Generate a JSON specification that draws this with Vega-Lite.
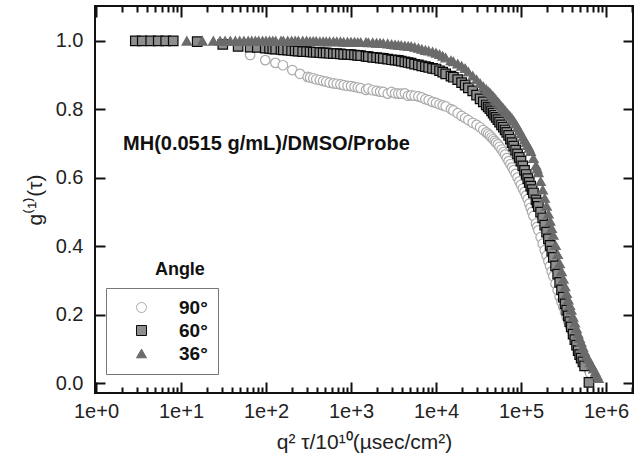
{
  "$schema": "https://vega.github.io/schema/vega-lite/v6.json",
  "width": 538,
  "height": 387,
  "autosize": {"type": "none"},
  "padding": {"left": 95, "top": 6, "right": 11, "bottom": 76},
  "background": "white",
  "config": {
    "view": {"stroke": "#111", "strokeWidth": 2},
    "font": "Liberation Sans",
    "axis": {
      "grid": false,
      "domain": false,
      "ticks": true,
      "tickColor": "#111111",
      "tickWidth": 2,
      "tickRound": true,
      "labelFont": "Liberation Sans",
      "labelFontSize": 20,
      "labelColor": "#222",
      "titleFont": "Liberation Sans",
      "titleFontSize": 21,
      "titleFontWeight": "normal",
      "titleColor": "#222"
    }
  },
  "data": {
    "values": [
      {"a":"90","x":65,"y":0.959},{"a":"90","x":98,"y":0.944},{"a":"90","x":129,"y":0.936},{"a":"90","x":158,"y":0.929},{"a":"90","x":204,"y":0.915},{"a":"90","x":251,"y":0.904},{"a":"90","x":309,"y":0.895},{"a":"90","x":330,"y":0.893},{"a":"90","x":360,"y":0.891},{"a":"90","x":390,"y":0.888},{"a":"90","x":430,"y":0.886},{"a":"90","x":470,"y":0.883},{"a":"90","x":510,"y":0.881},{"a":"90","x":560,"y":0.878},{"a":"90","x":620,"y":0.876},{"a":"90","x":680,"y":0.875},{"a":"90","x":750,"y":0.873},{"a":"90","x":820,"y":0.871},{"a":"90","x":910,"y":0.869},{"a":"90","x":1000,"y":0.868},{"a":"90","x":1100,"y":0.866},{"a":"90","x":1200,"y":0.864},{"a":"90","x":1300,"y":0.862},{"a":"90","x":1500,"y":0.857},{"a":"90","x":1600,"y":0.861},{"a":"90","x":1800,"y":0.856},{"a":"90","x":2000,"y":0.854},{"a":"90","x":2200,"y":0.852},{"a":"90","x":2400,"y":0.851},{"a":"90","x":2700,"y":0.846},{"a":"90","x":3000,"y":0.851},{"a":"90","x":3300,"y":0.847},{"a":"90","x":3600,"y":0.846},{"a":"90","x":3900,"y":0.846},{"a":"90","x":4300,"y":0.847},{"a":"90","x":4700,"y":0.840},{"a":"90","x":5100,"y":0.841},{"a":"90","x":5600,"y":0.840},{"a":"90","x":6200,"y":0.838},{"a":"90","x":6800,"y":0.835},{"a":"90","x":7500,"y":0.830},{"a":"90","x":8200,"y":0.827},{"a":"90","x":9100,"y":0.822},{"a":"90","x":10000,"y":0.819},{"a":"90","x":11000,"y":0.815},{"a":"90","x":12000,"y":0.812},{"a":"90","x":13000,"y":0.809},{"a":"90","x":15000,"y":0.801},{"a":"90","x":16000,"y":0.797},{"a":"90","x":18000,"y":0.789},{"a":"90","x":20000,"y":0.781},{"a":"90","x":22000,"y":0.775},{"a":"90","x":24000,"y":0.769},{"a":"90","x":27000,"y":0.761},{"a":"90","x":30000,"y":0.755},{"a":"90","x":33000,"y":0.748},{"a":"90","x":36000,"y":0.740},{"a":"90","x":39000,"y":0.733},{"a":"90","x":41000,"y":0.729},{"a":"90","x":43000,"y":0.724},{"a":"90","x":45000,"y":0.718},{"a":"90","x":47000,"y":0.713},{"a":"90","x":49000,"y":0.708},{"a":"90","x":51000,"y":0.703},{"a":"90","x":53500,"y":0.698},{"a":"90","x":56000,"y":0.691},{"a":"90","x":59000,"y":0.683},{"a":"90","x":62000,"y":0.675},{"a":"90","x":65000,"y":0.668},{"a":"90","x":68000,"y":0.658},{"a":"90","x":71500,"y":0.649},{"a":"90","x":75000,"y":0.640},{"a":"90","x":78500,"y":0.631},{"a":"90","x":82000,"y":0.623},{"a":"90","x":86500,"y":0.612},{"a":"90","x":91000,"y":0.601},{"a":"90","x":95500,"y":0.590},{"a":"90","x":100000,"y":0.580},{"a":"90","x":105000,"y":0.569},{"a":"90","x":110000,"y":0.559},{"a":"90","x":115000,"y":0.549},{"a":"90","x":120000,"y":0.538},{"a":"90","x":125000,"y":0.525},{"a":"90","x":130000,"y":0.513},{"a":"90","x":135000,"y":0.501},{"a":"90","x":140000,"y":0.489},{"a":"90","x":150000,"y":0.467},{"a":"90","x":155000,"y":0.457},{"a":"90","x":160000,"y":0.447},{"a":"90","x":170000,"y":0.427},{"a":"90","x":180000,"y":0.408},{"a":"90","x":190000,"y":0.389},{"a":"90","x":200000,"y":0.373},{"a":"90","x":210000,"y":0.357},{"a":"90","x":220000,"y":0.343},{"a":"90","x":230000,"y":0.327},{"a":"90","x":240000,"y":0.313},{"a":"90","x":255000,"y":0.291},{"a":"90","x":270000,"y":0.272},{"a":"90","x":285000,"y":0.254},{"a":"90","x":300000,"y":0.238},{"a":"90","x":315000,"y":0.223},{"a":"90","x":330000,"y":0.208},{"a":"90","x":345000,"y":0.194},{"a":"90","x":360000,"y":0.181},{"a":"90","x":375000,"y":0.168},{"a":"90","x":390000,"y":0.156},{"a":"90","x":410000,"y":0.142},{"a":"90","x":430000,"y":0.131},{"a":"90","x":450000,"y":0.119},{"a":"90","x":470000,"y":0.108},{"a":"90","x":490000,"y":0.098},{"a":"90","x":510000,"y":0.087},{"a":"90","x":535000,"y":0.077},{"a":"90","x":560000,"y":0.066},{"a":"90","x":590000,"y":0.053},{"a":"90","x":620000,"y":0.041},{"a":"90","x":650000,"y":0.030},
      {"a":"60","x":2.9,"y":1.0},{"a":"60","x":3.5,"y":1.0},{"a":"60","x":4.4,"y":1.0},{"a":"60","x":5.4,"y":1.0},{"a":"60","x":6.6,"y":1.0},{"a":"60","x":8.1,"y":1.0},{"a":"60","x":15.5,"y":0.998},{"a":"60","x":31,"y":0.990},{"a":"60","x":47,"y":0.984},{"a":"60","x":65,"y":0.982},{"a":"60","x":79,"y":0.981},{"a":"60","x":98,"y":0.979},{"a":"60","x":110,"y":0.978},{"a":"60","x":120,"y":0.977},{"a":"60","x":130,"y":0.976},{"a":"60","x":150,"y":0.975},{"a":"60","x":160,"y":0.974},{"a":"60","x":180,"y":0.973},{"a":"60","x":200,"y":0.972},{"a":"60","x":220,"y":0.971},{"a":"60","x":240,"y":0.970},{"a":"60","x":270,"y":0.969},{"a":"60","x":300,"y":0.969},{"a":"60","x":330,"y":0.968},{"a":"60","x":360,"y":0.967},{"a":"60","x":390,"y":0.967},{"a":"60","x":430,"y":0.966},{"a":"60","x":470,"y":0.965},{"a":"60","x":510,"y":0.965},{"a":"60","x":560,"y":0.964},{"a":"60","x":620,"y":0.963},{"a":"60","x":680,"y":0.963},{"a":"60","x":750,"y":0.962},{"a":"60","x":820,"y":0.961},{"a":"60","x":910,"y":0.961},{"a":"60","x":1000,"y":0.960},{"a":"60","x":1100,"y":0.959},{"a":"60","x":1200,"y":0.958},{"a":"60","x":1300,"y":0.957},{"a":"60","x":1500,"y":0.955},{"a":"60","x":1600,"y":0.954},{"a":"60","x":1800,"y":0.952},{"a":"60","x":2000,"y":0.951},{"a":"60","x":2200,"y":0.950},{"a":"60","x":2400,"y":0.949},{"a":"60","x":2700,"y":0.947},{"a":"60","x":3000,"y":0.945},{"a":"60","x":3300,"y":0.944},{"a":"60","x":3600,"y":0.943},{"a":"60","x":3900,"y":0.941},{"a":"60","x":4300,"y":0.939},{"a":"60","x":4700,"y":0.937},{"a":"60","x":5100,"y":0.935},{"a":"60","x":5600,"y":0.932},{"a":"60","x":6200,"y":0.930},{"a":"60","x":6800,"y":0.927},{"a":"60","x":7500,"y":0.925},{"a":"60","x":8200,"y":0.923},{"a":"60","x":9100,"y":0.920},{"a":"60","x":10000,"y":0.918},{"a":"60","x":11000,"y":0.913},{"a":"60","x":12000,"y":0.909},{"a":"60","x":13000,"y":0.904},{"a":"60","x":15000,"y":0.897},{"a":"60","x":16000,"y":0.894},{"a":"60","x":18000,"y":0.887},{"a":"60","x":20000,"y":0.878},{"a":"60","x":22000,"y":0.871},{"a":"60","x":24000,"y":0.863},{"a":"60","x":27000,"y":0.854},{"a":"60","x":30000,"y":0.842},{"a":"60","x":33000,"y":0.831},{"a":"60","x":36000,"y":0.822},{"a":"60","x":39000,"y":0.813},{"a":"60","x":41000,"y":0.807},{"a":"60","x":43000,"y":0.802},{"a":"60","x":45000,"y":0.796},{"a":"60","x":47000,"y":0.789},{"a":"60","x":49000,"y":0.783},{"a":"60","x":51000,"y":0.777},{"a":"60","x":53500,"y":0.770},{"a":"60","x":56000,"y":0.763},{"a":"60","x":59000,"y":0.755},{"a":"60","x":62000,"y":0.748},{"a":"60","x":65000,"y":0.740},{"a":"60","x":68000,"y":0.733},{"a":"60","x":71500,"y":0.724},{"a":"60","x":75000,"y":0.713},{"a":"60","x":78500,"y":0.703},{"a":"60","x":82000,"y":0.693},{"a":"60","x":86500,"y":0.681},{"a":"60","x":91000,"y":0.670},{"a":"60","x":95500,"y":0.660},{"a":"60","x":100000,"y":0.649},{"a":"60","x":105000,"y":0.635},{"a":"60","x":110000,"y":0.622},{"a":"60","x":115000,"y":0.610},{"a":"60","x":120000,"y":0.598},{"a":"60","x":125000,"y":0.587},{"a":"60","x":130000,"y":0.576},{"a":"60","x":135000,"y":0.566},{"a":"60","x":140000,"y":0.556},{"a":"60","x":150000,"y":0.536},{"a":"60","x":155000,"y":0.527},{"a":"60","x":160000,"y":0.517},{"a":"60","x":170000,"y":0.500},{"a":"60","x":180000,"y":0.483},{"a":"60","x":190000,"y":0.462},{"a":"60","x":200000,"y":0.442},{"a":"60","x":210000,"y":0.422},{"a":"60","x":220000,"y":0.403},{"a":"60","x":230000,"y":0.386},{"a":"60","x":240000,"y":0.368},{"a":"60","x":255000,"y":0.343},{"a":"60","x":270000,"y":0.319},{"a":"60","x":285000,"y":0.295},{"a":"60","x":300000,"y":0.273},{"a":"60","x":315000,"y":0.252},{"a":"60","x":330000,"y":0.232},{"a":"60","x":345000,"y":0.214},{"a":"60","x":360000,"y":0.197},{"a":"60","x":375000,"y":0.180},{"a":"60","x":390000,"y":0.165},{"a":"60","x":410000,"y":0.144},{"a":"60","x":430000,"y":0.128},{"a":"60","x":450000,"y":0.112},{"a":"60","x":470000,"y":0.096},{"a":"60","x":490000,"y":0.084},{"a":"60","x":510000,"y":0.074},{"a":"60","x":535000,"y":0.063},{"a":"60","x":560000,"y":0.051},{"a":"60","x":630000,"y":0.003},
      {"a":"36","x":11.7,"y":1.0},{"a":"36","x":17.8,"y":1.0},{"a":"36","x":24,"y":1.0},{"a":"36","x":28.8,"y":1.0},{"a":"36","x":33,"y":1.0},{"a":"36","x":38,"y":1.0},{"a":"36","x":43.6,"y":1.0},{"a":"36","x":49,"y":1.0},{"a":"36","x":55,"y":1.0},{"a":"36","x":61.7,"y":1.0},{"a":"36","x":68,"y":1.0},{"a":"36","x":75,"y":1.0},{"a":"36","x":82,"y":1.0},{"a":"36","x":91,"y":1.0},{"a":"36","x":100,"y":1.0},{"a":"36","x":110,"y":1.0},{"a":"36","x":120,"y":1.0},{"a":"36","x":130,"y":1.0},{"a":"36","x":150,"y":1.0},{"a":"36","x":160,"y":1.0},{"a":"36","x":180,"y":1.0},{"a":"36","x":200,"y":1.0},{"a":"36","x":220,"y":1.0},{"a":"36","x":240,"y":1.0},{"a":"36","x":270,"y":1.0},{"a":"36","x":300,"y":1.0},{"a":"36","x":330,"y":0.999},{"a":"36","x":360,"y":0.999},{"a":"36","x":390,"y":0.999},{"a":"36","x":430,"y":0.998},{"a":"36","x":470,"y":0.998},{"a":"36","x":510,"y":0.998},{"a":"36","x":560,"y":0.998},{"a":"36","x":620,"y":0.998},{"a":"36","x":680,"y":0.998},{"a":"36","x":750,"y":0.998},{"a":"36","x":820,"y":0.997},{"a":"36","x":910,"y":0.997},{"a":"36","x":1000,"y":0.997},{"a":"36","x":1100,"y":0.997},{"a":"36","x":1200,"y":0.996},{"a":"36","x":1300,"y":0.996},{"a":"36","x":1500,"y":0.996},{"a":"36","x":1600,"y":0.995},{"a":"36","x":1800,"y":0.995},{"a":"36","x":2000,"y":0.994},{"a":"36","x":2200,"y":0.994},{"a":"36","x":2400,"y":0.993},{"a":"36","x":2700,"y":0.992},{"a":"36","x":3000,"y":0.990},{"a":"36","x":3300,"y":0.989},{"a":"36","x":3600,"y":0.988},{"a":"36","x":3900,"y":0.987},{"a":"36","x":4300,"y":0.986},{"a":"36","x":4700,"y":0.985},{"a":"36","x":5100,"y":0.984},{"a":"36","x":5600,"y":0.982},{"a":"36","x":6200,"y":0.979},{"a":"36","x":6800,"y":0.976},{"a":"36","x":7500,"y":0.973},{"a":"36","x":8200,"y":0.971},{"a":"36","x":9100,"y":0.968},{"a":"36","x":10000,"y":0.965},{"a":"36","x":11000,"y":0.961},{"a":"36","x":12000,"y":0.956},{"a":"36","x":13000,"y":0.951},{"a":"36","x":15000,"y":0.943},{"a":"36","x":16000,"y":0.940},{"a":"36","x":18000,"y":0.933},{"a":"36","x":20000,"y":0.927},{"a":"36","x":22000,"y":0.920},{"a":"36","x":24000,"y":0.910},{"a":"36","x":27000,"y":0.898},{"a":"36","x":30000,"y":0.887},{"a":"36","x":33000,"y":0.876},{"a":"36","x":36000,"y":0.867},{"a":"36","x":39000,"y":0.859},{"a":"36","x":41000,"y":0.853},{"a":"36","x":43000,"y":0.849},{"a":"36","x":45000,"y":0.843},{"a":"36","x":47000,"y":0.838},{"a":"36","x":49000,"y":0.833},{"a":"36","x":51000,"y":0.827},{"a":"36","x":53500,"y":0.822},{"a":"36","x":56000,"y":0.816},{"a":"36","x":59000,"y":0.809},{"a":"36","x":62000,"y":0.803},{"a":"36","x":65000,"y":0.797},{"a":"36","x":68000,"y":0.791},{"a":"36","x":71500,"y":0.785},{"a":"36","x":75000,"y":0.779},{"a":"36","x":78500,"y":0.773},{"a":"36","x":82000,"y":0.767},{"a":"36","x":86500,"y":0.758},{"a":"36","x":91000,"y":0.748},{"a":"36","x":95500,"y":0.739},{"a":"36","x":100000,"y":0.730},{"a":"36","x":105000,"y":0.720},{"a":"36","x":110000,"y":0.711},{"a":"36","x":115000,"y":0.703},{"a":"36","x":120000,"y":0.695},{"a":"36","x":125000,"y":0.687},{"a":"36","x":130000,"y":0.678},{"a":"36","x":140000,"y":0.657},{"a":"36","x":150000,"y":0.636},{"a":"36","x":155000,"y":0.627},{"a":"36","x":160000,"y":0.616},{"a":"36","x":170000,"y":0.590},{"a":"36","x":180000,"y":0.565},{"a":"36","x":190000,"y":0.541},{"a":"36","x":200000,"y":0.518},{"a":"36","x":210000,"y":0.495},{"a":"36","x":220000,"y":0.474},{"a":"36","x":230000,"y":0.453},{"a":"36","x":240000,"y":0.433},{"a":"36","x":255000,"y":0.403},{"a":"36","x":270000,"y":0.377},{"a":"36","x":285000,"y":0.350},{"a":"36","x":300000,"y":0.327},{"a":"36","x":315000,"y":0.305},{"a":"36","x":330000,"y":0.283},{"a":"36","x":345000,"y":0.263},{"a":"36","x":360000,"y":0.244},{"a":"36","x":375000,"y":0.228},{"a":"36","x":390000,"y":0.214},{"a":"36","x":410000,"y":0.194},{"a":"36","x":430000,"y":0.177},{"a":"36","x":450000,"y":0.160},{"a":"36","x":470000,"y":0.145},{"a":"36","x":490000,"y":0.132},{"a":"36","x":510000,"y":0.120},{"a":"36","x":535000,"y":0.106},{"a":"36","x":560000,"y":0.093},{"a":"36","x":590000,"y":0.080},{"a":"36","x":620000,"y":0.071},{"a":"36","x":650000,"y":0.061},{"a":"36","x":680000,"y":0.052},{"a":"36","x":715000,"y":0.043},{"a":"36","x":750000,"y":0.033},{"a":"36","x":785000,"y":0.023},{"a":"36","x":815000,"y":0.015}
    ]
  },
  "resolve": {"axis": {"x": "independent", "y": "independent"}},
  "layer": [
    {
      "transform": [{"filter": "datum.a == '90'"}],
      "mark": {"type": "point", "filled": true, "opacity": 1, "size": 90, "strokeWidth": 1.2},
      "encoding": {
        "x": {
          "field": "x", "type": "quantitative",
          "scale": {"type": "log", "domain": [0.973, 2078000], "nice": false},
          "axis": {
            "orient": "bottom",
            "offset": -11,
            "tickSize": 11,
            "title": "q² τ/10¹⁰(µsec/cm²)",
            "titlePadding": 10,
            "values": [1, 10, 100, 1000, 10000, 100000, 1000000],
            "labelPadding": 8,
            "labelExpr": "'1e+' + round(log(datum.value)/LN10)",
            "labelOverlap": false,
            "labelFlush": false
          }
        },
        "y": {
          "field": "y", "type": "quantitative",
          "scale": {"domain": [-0.028, 1.102], "nice": false, "zero": false},
          "axis": {
            "orient": "left",
            "offset": -10,
            "tickSize": 10,
            "title": "g⁽¹⁾(τ)",
            "titlePadding": 10,
            "values": [0, 0.2, 0.4, 0.6, 0.8, 1.0],
            "format": ".1f",
            "labelPadding": 12
          }
        },
        "shape": {
          "field": "a", "type": "nominal",
          "scale": {"domain": ["90", "60", "36"], "range": ["circle", "square", "triangle-up"]},
          "legend": {
            "title": null,
            "orient": "none",
            "legendX": 11,
            "legendY": 282,
            "strokeColor": "#777",
            "padding": 10,
            "symbolOffset": 16,
            "labelOffset": 28,
            "rowPadding": 3,
            "labelFont": "Liberation Sans",
            "labelFontSize": 19,
            "labelFontWeight": "bold",
            "labelColor": "#111",
            "labelExpr": "datum.label + '°\u00a0\u00a0'",
            "symbolStrokeWidth": 1
          }
        },
        "fill": {
          "field": "a", "type": "nominal",
          "scale": {"domain": ["90", "60", "36"], "range": ["#ffffff", "#8e8e8e", "#6b6b6b"]}
        },
        "stroke": {
          "field": "a", "type": "nominal",
          "scale": {"domain": ["90", "60", "36"], "range": ["#aaaaaa", "#0a0a0a", "#6b6b6b"]}
        }
      }
    },
    {
      "transform": [{"filter": "datum.a == '60'"}],
      "mark": {"type": "point", "filled": true, "opacity": 1, "size": 90, "strokeWidth": 1.2},
      "encoding": {
        "x": {
          "field": "x", "type": "quantitative",
          "axis": {
            "orient": "bottom",
            "offset": -6,
            "tickSize": 6,
            "title": null,
            "labels": false,
            "values": [2,3,4,5,6,7,8,9,20,30,40,50,60,70,80,90,200,300,400,500,600,700,800,900,2000,3000,4000,5000,6000,7000,8000,9000,20000,30000,40000,50000,60000,70000,80000,90000,200000,300000,400000,500000,600000,700000,800000,900000,2000000]
          }
        },
        "y": {
          "field": "y", "type": "quantitative",
          "axis": {
            "orient": "right",
            "offset": -10,
            "tickSize": 10,
            "title": null,
            "labels": false,
            "values": [0, 0.2, 0.4, 0.6, 0.8, 1.0]
          }
        },
        "shape": {"field": "a", "type": "nominal"},
        "fill": {"field": "a", "type": "nominal"},
        "stroke": {"field": "a", "type": "nominal"}
      }
    },
    {
      "transform": [{"filter": "datum.a == '36'"}],
      "mark": {"type": "point", "filled": true, "opacity": 1, "size": 90, "strokeWidth": 1.2},
      "encoding": {
        "x": {
          "field": "x", "type": "quantitative",
          "axis": {
            "orient": "top",
            "offset": -11,
            "tickSize": 11,
            "title": null,
            "labels": false,
            "values": [1, 10, 100, 1000, 10000, 100000, 1000000]
          }
        },
        "y": {"field": "y", "type": "quantitative", "axis": null},
        "shape": {"field": "a", "type": "nominal"},
        "fill": {"field": "a", "type": "nominal"},
        "stroke": {"field": "a", "type": "nominal"}
      }
    },
    {
      "data": {"values": [{"label": "MH(0.0515 g/mL)/DMSO/Probe"}]},
      "mark": {"type": "text", "align": "left", "baseline": "alphabetic", "font": "Liberation Sans", "fontSize": 20, "fontWeight": "bold", "color": "#111"},
      "encoding": {
        "text": {"field": "label"},
        "x": {
          "datum": 2.08, "type": "quantitative",
          "axis": {
            "orient": "top",
            "offset": -6,
            "tickSize": 6,
            "title": null,
            "labels": false,
            "values": [2,3,4,5,6,7,8,9,20,30,40,50,60,70,80,90,200,300,400,500,600,700,800,900,2000,3000,4000,5000,6000,7000,8000,9000,20000,30000,40000,50000,60000,70000,80000,90000,200000,300000,400000,500000,600000,700000,800000,900000,2000000]
          }
        },
        "y": {"datum": 0.681, "type": "quantitative", "axis": null}
      }
    },
    {
      "data": {"values": [{"label": "Angle"}]},
      "mark": {"type": "text", "align": "center", "baseline": "alphabetic", "font": "Liberation Sans", "fontSize": 18, "fontWeight": "bold", "color": "#111"},
      "encoding": {
        "text": {"field": "label"},
        "x": {"datum": 9.7, "type": "quantitative", "axis": null},
        "y": {"datum": 0.316, "type": "quantitative", "axis": null}
      }
    }
  ]
}
